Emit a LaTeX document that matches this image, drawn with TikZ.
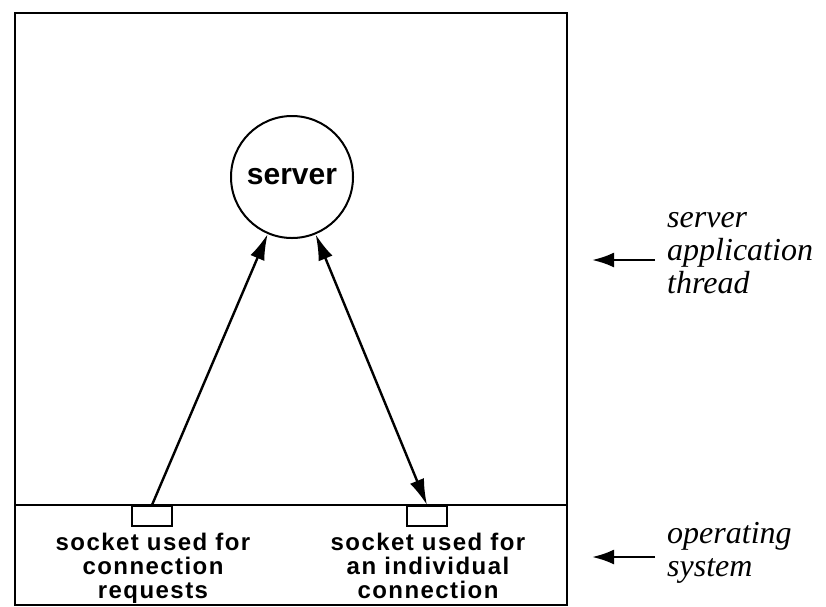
\documentclass[tikz,border=0pt]{standalone}
\usepackage{fontspec}
\setmainfont{Liberation Serif}
\setsansfont{Liberation Sans}
\usetikzlibrary{arrows.meta}

\begin{document}
\begin{tikzpicture}[x=1pt, y=-1pt,
    sock/.style={draw=black, line width=1.6pt, minimum width=40pt, minimum height=20pt, inner sep=0pt, anchor=north},
    socktext/.style={font=\sffamily\bfseries\fontsize{24}{24}\selectfont\addfontfeature{LetterSpace=6}, align=center, anchor=north, inner sep=0pt},
    sidetext/.style={font=\itshape\fontsize{32}{33}\selectfont, align=left, anchor=north west, inner sep=0pt},
    conn/.style={line width=2.4pt, -{Latex[length=26pt,width=15pt]}},
    sidearrow/.style={line width=2.6pt, -{Latex[length=22pt,width=15pt]}}]
    \useasboundingbox (0,0) rectangle (826,606);

    % frame and the line between thread and operating system
    \draw[line width=2.6pt] (15,13) rectangle (567,605);
    \draw[line width=2.6pt] (15,505) -- (567,505);

    \node[shape=circle, draw=black, line width=2pt, minimum size=122pt, inner sep=0pt, font=\sffamily\bfseries\fontsize{30}{30}\selectfont] (server) at (292,177) {server};

    \node[sock] (sockA) at (152,505) {};
    \node[sock] (sockB) at (427,505) {};

    \node[socktext] (sockAtext) at (153,533) {socket used for\\connection\\requests};
    \node[socktext] (sockBtext) at (428,533) {socket used for\\an individual\\connection};

    \node[sidetext] (appLabel) at (667,212) {server\\application\\thread};
    \node[sidetext] (osLabel) at (667,522) {operating\\system};

    \coordinate (appTip) at (592,260);
    \coordinate (appTail) at (655,260);
    \coordinate (osTip) at (592,557);
    \coordinate (osTail) at (655,557);

    \draw[conn] (sockA.north) -- (server);
    \draw[conn, {Latex[length=26pt,width=15pt]}-{Latex[length=26pt,width=15pt]}] (server) -- (sockB.north);

    \draw[sidearrow] (appTail) -- (appTip);
    \draw[sidearrow] (osTail) -- (osTip);
\end{tikzpicture}
\end{document}
